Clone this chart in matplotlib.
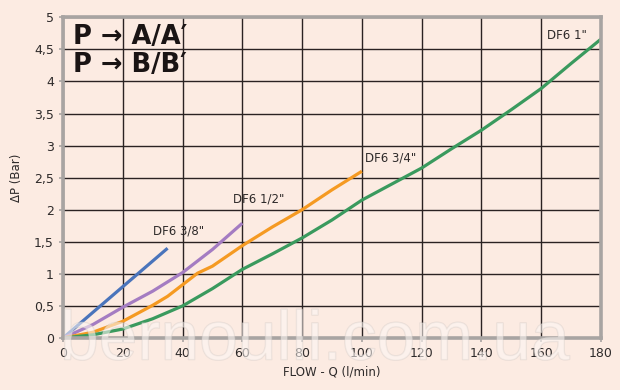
import matplotlib
matplotlib.use("Agg")
import matplotlib.pyplot as plt
import matplotlib.patheffects as pe

# ---------------------------------------------------------------------------
# Data
# ---------------------------------------------------------------------------

flow_38 = [0, 10, 20, 30, 35]
dp_38 = [0, 0.40, 0.80, 1.20, 1.40]

flow_12 = [0, 10, 20, 30, 40, 50, 60]
dp_12 = [0, 0.21, 0.48, 0.73, 1.02, 1.38, 1.79]

flow_34 = [0, 10, 20, 30, 35, 40, 45, 50, 60, 70, 80, 90, 100]
dp_34 = [0, 0.09, 0.26, 0.51, 0.65, 0.83, 1.01, 1.12, 1.44, 1.73, 2.00, 2.31, 2.60]

flow_1 = [0, 10, 20, 30, 40, 50, 60, 70, 80, 90, 100, 110, 120, 130, 140, 150, 160, 170, 180]
dp_1 = [0, 0.05, 0.14, 0.30, 0.50, 0.77, 1.07, 1.31, 1.56, 1.84, 2.15, 2.40, 2.65,
        2.95, 3.24, 3.56, 3.89, 4.28, 4.66]

SERIES = [
    ("DF6 3/8\"", flow_38, dp_38, "#4a74bb", (30, 1.67)),
    ("DF6 1/2\"", flow_12, dp_12, "#a47cc2", (57, 2.17)),
    ("DF6 3/4\"", flow_34, dp_34, "#f59a22", (101, 2.80)),
    ("DF6 1\"", flow_1, dp_1, "#3a9a5e", (162, 4.71)),
]

X_TICKS = list(range(0, 181, 20))
Y_TICKS = [0, 0.5, 1, 1.5, 2, 2.5, 3, 3.5, 4, 4.5, 5]
Y_LABELS = ["0", "0,5", "1", "1,5", "2", "2,5", "3", "3,5", "4", "4,5", "5"]

BG = "#fcebe2"
TXT = "#2e2a2a"
SPINE = "#a8a4a2"

# ---------------------------------------------------------------------------
# Plot
# ---------------------------------------------------------------------------

fig = plt.figure(figsize=(6.2, 3.9), dpi=100, facecolor=BG)
ax = fig.add_axes([0.1016, 0.1333, 0.8677, 0.8223], facecolor=BG)

for name, xs, ys, color, (lx, ly) in SERIES:
    ax.plot(xs, ys, color=color, lw=2.3, solid_capstyle="butt",
            solid_joinstyle="round", zorder=3)
    ax.text(lx, ly, name, fontsize=8.5, color=TXT, va="center", ha="left", zorder=4)

ax.set_xlim(0, 180)
ax.set_ylim(0, 5)
ax.set_xticks(X_TICKS)
ax.set_yticks(Y_TICKS)
ax.set_yticklabels(Y_LABELS)
ax.grid(True, color="#2a2222", lw=1.0, zorder=1)
ax.tick_params(colors=SPINE, labelcolor=TXT, labelsize=9, length=3, width=1.2)
for s in ax.spines.values():
    s.set_color(SPINE)
    s.set_linewidth(2.6)
    s.set_zorder(5)

ax.set_xlabel("FLOW - Q (l/min)", fontsize=8.5, color=TXT, labelpad=4)
ax.set_ylabel("ΔP (Bar)", fontsize=8.5, color=TXT, labelpad=8)

for yy, txt in [(0.94, "P → A/A′"), (0.852, "P → B/B′")]:
    ax.text(0.018, yy, txt, transform=ax.transAxes, fontsize=18.5,
            fontweight="bold", family="Liberation Sans Narrow",
            color="#1a1414", va="center", ha="left", zorder=6)

# watermark
wm = fig.text(0.097, 0.078, "bernoulli.com.ua", fontsize=50, family="Liberation Sans",
              color="#fdf7f4", alpha=0.35, ha="left", va="baseline", zorder=10)
wm.set_path_effects([pe.withStroke(linewidth=1.0, foreground="#c9c3c0")])

fig.savefig("out.png", dpi=100, facecolor=BG)
